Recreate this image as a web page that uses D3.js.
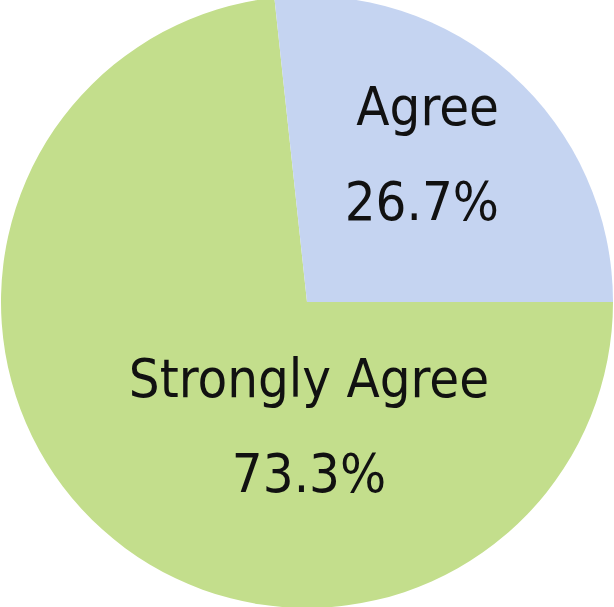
<!DOCTYPE html>
<html>
<head>
<meta charset="utf-8">
<script src="https://cdn.jsdelivr.net/npm/d3@7"></script>
<style>
  html, body { margin: 0; padding: 0; background: #fff; }
  svg { display: block; }
  text { font-family: "DejaVu Sans", Verdana, sans-serif; font-stretch: condensed; fill: #111; }
</style>
</head>
<body>
<svg width="614" height="607"></svg>
<script>
// data
const categories = ["Strongly Agree", "Agree"];
const values = [73.3, 26.7];
const valueLabels = ["73.3%", "26.7%"];
const colors = ["#c3de8c", "#c5d4f1"];

const svg = d3.select("svg");
const cx = 307, cy = 302, radius = 306;

// slices run clockwise starting at 3 o'clock
const pie = d3.pie().sort(null)
  .startAngle(Math.PI / 2)
  .endAngle(Math.PI / 2 + 2 * Math.PI);

const arc = d3.arc().innerRadius(0).outerRadius(radius);

const data = pie(values);
const g = svg.append("g").attr("transform", `translate(${cx},${cy})`);

g.selectAll("path.slice")
  .data(data)
  .enter().append("path")
    .attr("class", "slice")
    .attr("d", arc)
    .attr("fill", (d, i) => colors[i]);

// label boxes were placed by hand in the original, so keep them as layout
const labelLayout = [
  { x: 2, y: 142, anchor: "middle" },
  { x: 192, y: -130, anchor: "end" }
];

const labels = g.selectAll("g.label")
  .data(data)
  .enter().append("g")
    .attr("class", "label")
    .attr("transform", (d, i) => `translate(${labelLayout[i].x},${labelLayout[i].y})`);

labels.append("text")
  .attr("text-anchor", (d, i) => labelLayout[i].anchor)
  .attr("y", -47)
  .attr("font-size", 54)
  .text((d, i) => categories[i]);

labels.append("text")
  .attr("text-anchor", (d, i) => labelLayout[i].anchor)
  .attr("y", 48)
  .attr("font-size", 54)
  .text((d, i) => valueLabels[i]);
</script>
</body>
</html>
